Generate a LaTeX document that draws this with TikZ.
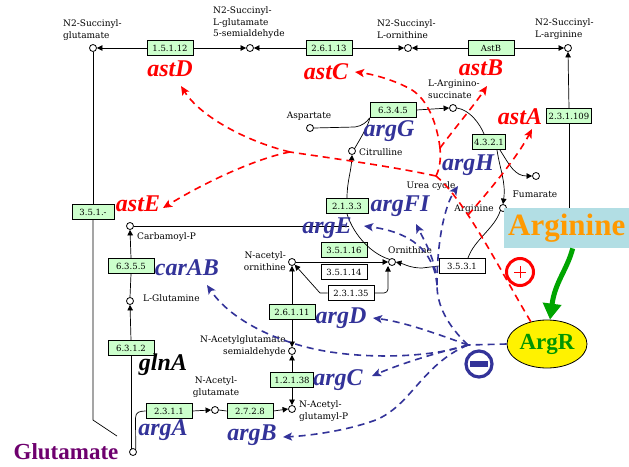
\documentclass[tikz,border=0pt]{standalone}
\usepackage{fontspec}
\setmainfont{Liberation Serif}
\newfontfamily\keggfont{DejaVu Serif}
\usetikzlibrary{arrows.meta,shapes.geometric}

\definecolor{ecgreen}{RGB}{204,255,204}
\definecolor{geneblue}{RGB}{51,51,153}
\definecolor{glupurple}{RGB}{110,0,110}
\definecolor{argcyan}{RGB}{178,222,228}
\definecolor{argorange}{RGB}{255,153,0}
\definecolor{regred}{RGB}{255,0,0}
\definecolor{argrgreen}{RGB}{0,150,0}
\definecolor{arrowgreen}{RGB}{0,165,0}

\tikzset{
  ecbox/.style={draw=black, line width=0.8pt, fill=ecgreen, minimum width=46pt,
    minimum height=15pt, inner sep=1pt, font=\keggfont\fontsize{8.5}{9}\selectfont},
  ecwhite/.style={ecbox, fill=white},
  cpd/.style={circle, draw=black, fill=white, line width=0.8pt, minimum size=7pt, inner sep=0pt},
  cpdlabel/.style={font=\keggfont\fontsize{9}{11.5}\selectfont, align=center, inner sep=0pt},
  rxn/.style={draw=black, line width=0.7pt},
  rxntip/.style={rxn, -{Triangle[length=5.5pt,width=5.5pt]}},
  gene/.style={font=\fontsize{24}{24}\selectfont\bfseries\itshape, inner sep=0pt},
  redgene/.style={gene, text=regred},
  bluegene/.style={gene, text=geneblue},
  regdash/.style={line width=1.6pt, dash pattern=on 7pt off 5pt},
  reddash/.style={regdash, draw=regred},
  bluedash/.style={regdash, draw=geneblue},
  regtip/.style={-{Stealth[length=9pt,width=8pt,inset=2pt]}},
}

\begin{document}
\begin{tikzpicture}[x=1pt,y=-1pt]
\useasboundingbox (0,0) rectangle (629,466);
\fill[white] (0,0) rectangle (629,466);

% ---- succinyl (AST) pathway, top row
\node[cpd] (sglu) at (93,48) {};
\node[cpdlabel, anchor=west, align=left] (sgluL) at (63,30) {N2-Succinyl-\\glutamate};
\node[ecbox] (e15112) at (170,48) {1.5.1.12};
\node[cpd] (sgsa) at (250,48) {};
\node[cpdlabel, anchor=west, align=left] (sgsaL) at (213,23) {N2-Succinyl-\\L-glutamate\\5-semialdehyde};
\node[ecbox] (e26113) at (329,48) {2.6.1.13};
\node[cpd] (sorn) at (408,48) {};
\node[cpdlabel, anchor=west, align=left] (sornL) at (377,29) {N2-Succinyl-\\L-ornithine};
\node[ecbox] (eastB) at (491,48) {AstB};
\node[cpd] (sarg) at (568,48) {};
\node[cpdlabel, anchor=west, align=left] (sargL) at (535,29) {N2-Succinyl-\\L-arginine};
\node[ecbox, minimum width=45pt] (e231109) at (569,116) {2.3.1.109};

\draw[rxntip] (e15112.west) -- (sglu.east);
\draw[rxntip] (e15112.east) -- (sgsa.west);
\draw[rxntip] (e26113.west) -- (sgsa.east);
\draw[rxntip] (e26113.east) -- (sorn.west);
\draw[rxntip] (eastB.west) -- (sorn.east);
\draw[rxntip] (eastB.east) -- (sarg.west);
\draw[rxntip] (e231109.north) -- (sarg.south);

% ---- glutamate / glutamine / carbamoyl-P column
\node[ecbox, minimum width=42pt] (e351) at (93,212) {3.5.1.-};
\coordinate (gluEnd) at (117,436);
\node[cpd] (carbp) at (130,226) {};
\node[cpdlabel, anchor=west] (carbpL) at (137,237) {Carbamoyl-P};
\node[ecbox] (e6355) at (131,266) {6.3.5.5};
\node[cpd] (glnm) at (130,301) {};
\node[cpdlabel, anchor=west] (glnmL) at (143,298) {L-Glutamine};
\node[ecbox] (e6312) at (131,348) {6.3.1.2};
\node[cpd] (glut) at (133,452) {};

\draw[rxn] (sglu.south) -- (e351.north);
\draw[rxn] (e351.south) -- (93,420) -- (gluEnd);
\draw[rxn] (e6312.south) -- (131,449);
\draw[rxntip] (e6312.north) -- (glnm.south);
\draw[rxn] (glnm.north) -- (e6355.south);
\draw[rxntip] (e6355.north) -- (carbp.south);

% ---- acetylated arginine pathway
\node[ecbox] (e2311) at (169,411) {2.3.1.1};
\node[cpd] (nag) at (215,410) {};
\node[cpdlabel] (nagL) at (216,387) {N-Acetyl-\\glutamate};
\node[ecbox] (e2728) at (250,411) {2.7.2.8};
\node[cpd] (nagp) at (292,409) {};
\node[cpdlabel, anchor=west, align=left] (nagpL) at (299,411) {N-Acetyl-\\glutamyl-P};
\node[ecbox, minimum width=43pt] (e12138) at (292,380) {1.2.1.38};
\node[cpd] (nagsa) at (292,351) {};
\node[cpdlabel, anchor=east, align=right] (nagsaL) at (286,346) {N-Acetylglutamate\\semialdehyde};
\node[ecbox] (e26111) at (292,312) {2.6.1.11};
\node[cpd] (naorn) at (292,262) {};
\node[cpdlabel, anchor=east, align=right] (naornL) at (286,261) {N-acetyl-\\ornithine};

\draw[rxn] (glut.north east) -- (135.5,418) .. controls (135.5,412) and (140,411) .. (e2311.west);
\draw[rxntip] (e2311.east) -- (nag.west);
\draw[rxn] (nag.east) -- (e2728.west);
\draw[rxntip] (e2728.east) -- (nagp.west);
\draw[rxntip] (e12138.south) -- (nagp.north);
\draw[rxntip] (e12138.north) -- (nagsa.south);
\draw[rxntip] (e26111.south) -- (nagsa.north);
\draw[rxntip] (e26111.north) -- (naorn.south);

% ---- urea cycle
\node[ecbox, minimum width=42pt] (e2133) at (347,206) {2.1.3.3};
\node[ecbox] (e35116) at (344,250) {3.5.1.16};
\node[ecwhite] (e35114) at (344,272) {3.5.1.14};
\node[ecwhite] (e23135) at (351,293) {2.3.1.35};
\node[cpd] (orn) at (392,262) {};
\node[cpdlabel] (ornL) at (410,250) {Ornithine};
\node[ecwhite] (e3531) at (462,266) {3.5.3.1};
\node[cpd] (citr) at (352,151) {};
\node[cpdlabel, anchor=west] (citrL) at (359,152) {Citrulline};
\node[cpd] (asp) at (310,128) {};
\node[cpdlabel] (aspL) at (309,116) {Aspartate};
\node[ecbox] (e6345) at (393,110) {6.3.4.5};
\node[cpd] (argsuc) at (453,108) {};
\node[cpdlabel, anchor=west, align=left] (argsucL) at (428,89) {L-Arginino-\\succinate};
\node[ecbox, minimum width=33pt] (e4321) at (489,142) {4.3.2.1};
\node[cpd] (fum) at (536,176) {};
\node[cpdlabel] (fumL) at (535,194) {Fumarate};
\node[cpd] (argc) at (503,208) {};
\node[cpdlabel] (argcL) at (474,209) {Arginine};
\node[cpdlabel] (ureaL) at (431,186) {Urea cycle};
\coordinate (carbEnd) at (349,226);

\draw[rxn] (carbp.east) -- (carbEnd);
\draw[rxntip] (e2133.north) .. controls (347,182) and (351,172) .. (citr.south);
\draw[rxn] (citr.north east) .. controls (362,136) and (370,122) .. (e6345.south west);
\draw[rxn] (asp.east) -- (355,127) .. controls (362,126) and (367,122) .. (e6345.south west);
\draw[rxntip] (e6345.east) -- (argsuc.west);
\draw[rxn] (argsuc.east) .. controls (470,110) and (480,124) .. (484,134);
\draw[rxntip] (497,150) .. controls (500,170) and (506,182) .. (argc.north);
\draw[rxntip] (500,150) .. controls (510,166) and (515,176) .. (fum.west);
\draw[rxn] (argc.south west) .. controls (495,228) and (474,240) .. (468,258);
\draw[rxntip] (e3531.west) -- (422,268) .. controls (410,268) and (404,264) .. (orn.east);
\draw[rxn] (e2133.south) .. controls (354,236) and (372,254) .. (orn.north west);
\draw[rxntip] (naorn.east) -- (orn.west);
\draw[rxntip] (e23135.west) -- (320,293) -- (naorn.south east);
\draw[rxntip, rounded corners=4pt] (e23135.east) -| (388,266);
\draw[rxn] (e231109.south) |- (argc.east);

% ---- gene names
\node[redgene] (gD) at (170,69) {astD};
\node[redgene] (gC) at (326,72) {astC};
\node[redgene] (gB) at (481,68) {astB};
\node[redgene] (gA) at (520,117) {astA};
\node[redgene] (gE) at (138,204) {astE};
\node[bluegene] (gG) at (389,131) {argG};
\node[bluegene] (gH) at (468,165) {argH};
\node[bluegene] (gFI) at (400,206) {argFI};
\node[bluegene] (gEa) at (327,228) {argE};
\node[bluegene] (gCAB) at (187,268) {carAB};
\node[bluegene] (gDa) at (341,318) {argD};
\node[bluegene] (gCa) at (338,380) {argC};
\node[bluegene] (gBa) at (252,435) {argB};
\node[bluegene] (gAa) at (163,430) {argA};
\node[gene, text=black] (gln) at (163,365) {glnA};
\node[inner sep=0pt, text=glupurple, font=\fontsize{23}{23}\selectfont\bfseries] (glutL) at (66,452) {Glutamate};

% ---- regulators
\node[fill=argcyan, minimum width=125pt, minimum height=40pt, inner sep=0pt, anchor=north west,
  text=argorange, font=\fontsize{31}{31}\selectfont\bfseries] (argbox) at (504,208) {Arginine};
\node[ellipse, draw=black, line width=0.8pt, fill=yellow, minimum width=80pt, minimum height=48pt,
  inner sep=0pt, text=argrgreen, font=\fontsize{23}{23}\selectfont\bfseries] (argR) at (547,344) {ArgR};
\draw[arrowgreen, line width=5pt, -{Triangle[length=16pt,width=18pt]}]
  ([xshift=6pt]argbox.south) .. controls (567,270) and (555,282) .. ([xshift=3pt]argR.north);

\node[circle, draw=regred, line width=3pt, minimum size=27pt, inner sep=0pt] (plus) at (520,272) {};
\draw[regred, line width=1pt] ([xshift=-6pt]plus.center) -- ([xshift=6pt]plus.center)
  ([yshift=-6pt]plus.center) -- ([yshift=6pt]plus.center);
\node[circle, draw=geneblue, line width=3.2pt, minimum size=26pt, inner sep=0pt] (minus) at (479,364) {};
\fill[geneblue] ([xshift=-9pt,yshift=-3pt]minus.center) rectangle ([xshift=9pt,yshift=3pt]minus.center);

% ---- activation by ArgR (red)
\coordinate (rJ) at (436,176);
\coordinate (rA) at (468,215);
\coordinate (rK) at (440,148);
\coordinate (rM) at (290,152);
\coordinate (tD) at (181,86);
\coordinate (tE) at (163,208);
\coordinate (tC) at (355,72);
\coordinate (tB) at (487,86);
\coordinate (tA) at (532,129);
\draw[reddash] (argR.126) .. controls (500,270) and (465,200) .. (rJ);
\draw[reddash] (rJ) .. controls (390,166) and (330,158) .. (rM);
\draw[reddash, regtip] (rM) .. controls (245,141) and (200,116) .. (tD);
\draw[reddash, regtip] (rM) .. controls (262,157) and (212,178) .. (tE);
\draw[reddash] (rJ) .. controls (440,168) and (441,158) .. (rK);
\draw[reddash, regtip] (rK) .. controls (437,124) and (428,100) .. (412,90) .. controls (395,80) and (372,74) .. (tC);
\draw[reddash, regtip] (rK) .. controls (455,128) and (475,104) .. (tB);
\draw[reddash, regtip] (rA) .. controls (490,190) and (518,156) .. (tA);

% ---- repression by ArgR (blue)
\coordinate (H) at (468,345);
\coordinate (B1) at (437,285);
\coordinate (tDg) at (373,318);
\coordinate (tCg) at (372,376);
\coordinate (tBg) at (283,437);
\coordinate (tCar) at (207,285);
\coordinate (tH) at (458,186);
\coordinate (tFI) at (416,224);
\coordinate (tEg) at (364,226);
\draw[bluedash] (argR.west) -- (H);
\draw[bluedash, regtip] (H) .. controls (440,335) and (405,322) .. (tDg);
\draw[bluedash, regtip] (H) .. controls (440,352) and (405,362) .. (tCg);
\draw[bluedash, regtip] (H) .. controls (420,365) and (410,410) .. (370,422) .. controls (340,432) and (305,436) .. (tBg);
\draw[bluedash, regtip] (H) .. controls (430,358) and (360,360) .. (310,348) .. controls (265,337) and (228,316) .. (tCar);
\draw[bluedash] (H) .. controls (447,325) and (437,305) .. (B1);
\draw[bluedash, regtip] (B1) .. controls (437,240) and (445,205) .. (tH);
\draw[bluedash, regtip] (B1) .. controls (436,260) and (425,242) .. (tFI);
\draw[bluedash, regtip] (B1) .. controls (434,250) and (410,232) .. (tEg);

\end{tikzpicture}
\end{document}
